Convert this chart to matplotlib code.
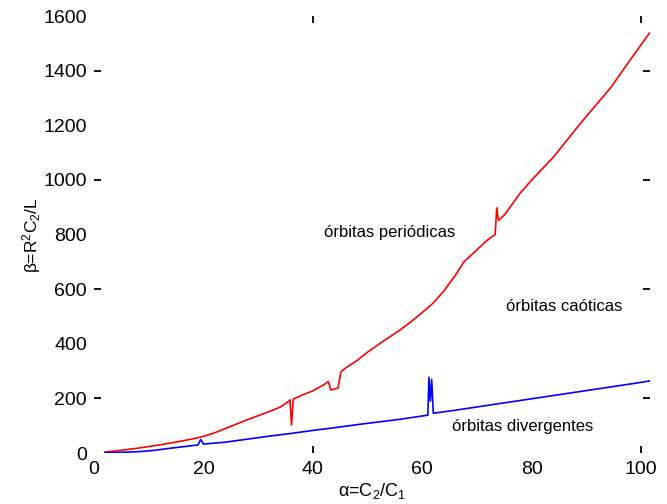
import matplotlib
matplotlib.use("Agg")
import matplotlib.pyplot as plt

plt.rcParams['font.family'] = ['Liberation Sans', 'DejaVu Sans']
plt.rcParams['mathtext.fontset'] = 'custom'
plt.rcParams['mathtext.rm'] = 'Liberation Sans'
plt.rcParams['mathtext.it'] = 'Liberation Sans'

# Boundary periodic / chaotic orbits (red)
alpha_red = [2, 4, 6, 8, 10, 12, 14, 16, 18, 20, 22, 24, 26, 28, 30, 32, 34,
             35.6, 35.8, 36.1, 36.4, 38, 40, 42, 42.8, 43.3, 44.6, 45.1, 46,
             48, 50, 52, 54, 56, 58, 60, 62, 64, 64.7, 66, 67.6, 70, 72, 73.3,
             73.6, 73.9, 75, 78, 80, 84, 89, 94.5, 98, 101.5]
beta_red = [4, 8, 13, 18, 24, 30, 37, 44, 52, 61, 74, 90, 106, 122, 137, 152, 168,
            190, 195, 103, 198, 212, 228, 250, 262, 231, 238, 297, 312,
            338, 370, 398, 425, 452, 482, 515, 550, 595, 615, 650, 700, 745, 782, 800,
            898, 852, 872, 955, 1000, 1085, 1210, 1340, 1440, 1538]

# Boundary chaotic / divergent orbits (blue)
alpha_blue = [2, 5, 8, 11, 14, 17, 19, 19.5, 20, 24, 28, 32, 36, 40, 44, 48, 52,
              56, 60, 61, 61.2, 61.45, 61.7, 62, 66, 70, 74, 78, 82, 86, 90, 94,
              98, 101.5]
beta_blue = [1, 3, 5, 10, 18, 25, 30, 50, 33, 40, 51, 62, 72, 83, 93, 104, 114,
             124, 136, 139, 278, 190, 270, 146, 157, 169, 181, 193, 205, 217, 229,
             241, 253, 264]

x_ticks = [0, 20, 40, 60, 80, 100]
y_ticks = [0, 200, 400, 600, 800, 1000, 1200, 1400, 1600]
x_marks = [40, 100]
y_marks = [200, 600, 1000, 1400]

region_labels = ["órbitas periódicas", "órbitas caóticas", "órbitas divergentes"]
region_pos = [(54, 807), (86, 535), (78.3, 96)]

fig = plt.figure(figsize=(6.67, 5.04), dpi=100)
ax = fig.add_axes([0.141, 0.101, 0.8335, 0.867])

ax.plot(alpha_red, beta_red, color='red', lw=1.2)
ax.plot(alpha_blue, beta_blue, color='blue', lw=1.2)

for txt, (px, py) in zip(region_labels, region_pos):
    ax.text(px, py, txt, ha='center', va='center', fontsize=12)

ax.set_xlim(0, 101.6)
ax.set_ylim(0, 1600)
for s in ax.spines.values():
    s.set_visible(False)

ax.xaxis.remove_overlapping_locs = False
ax.yaxis.remove_overlapping_locs = False
ax.set_xticks(x_ticks)
ax.set_yticks(y_ticks)
ax.set_xticks(x_marks, minor=True)
ax.set_yticks(y_marks, minor=True)
ax.tick_params(which='major', length=0, labelsize=14)
ax.tick_params(axis='y', which='major', pad=5)
ax.tick_params(axis='x', which='major', pad=6)
ax.tick_params(which='minor', direction='in', length=5, width=1.3,
               top=True, right=True, bottom=True, left=True)

ax.set_xlabel(r'$\alpha$=C$_2$/C$_1$', fontsize=13, labelpad=2)
ax.set_ylabel(r'$\beta$=R$^2$C$_2$/L', fontsize=12.5, labelpad=0)

fig.savefig('out.png', dpi=100)
